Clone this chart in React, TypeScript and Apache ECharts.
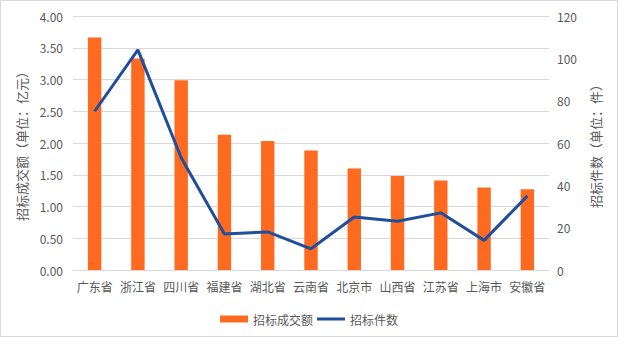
import React, { useEffect, useRef } from "react";
import * as echarts from "echarts";

const categories = ["广东省", "浙江省", "四川省", "福建省", "湖北省", "云南省", "北京市", "山西省", "江苏省", "上海市", "安徽省"];
const amountValues = [3.66, 3.33, 2.99, 2.13, 2.03, 1.88, 1.6, 1.48, 1.41, 1.3, 1.27];
const countValues = [75, 104, 53, 17, 18, 10, 25, 23, 27, 14, 35];

const FONT = "'Noto Sans CJK SC', 'Microsoft YaHei', sans-serif";
const TEXT = "#595959";

export default function App() {
  const ref = useRef<HTMLDivElement>(null);
  useEffect(() => {
    document.body.style.margin = "0";
    const chart = echarts.init(ref.current!, null, { renderer: "svg" });
    chart.setOption({
      animation: false,
      textStyle: { fontFamily: FONT, color: TEXT },
      grid: { left: 72, right: 68, top: 15, bottom: 66 },
      legend: {
        bottom: 6,
        left: "center",
        itemGap: 4,
        itemWidth: 28,
        itemHeight: 7,
        textStyle: { fontFamily: FONT, fontSize: 12, color: TEXT },
        data: [
          { name: "招标成交额", icon: "rect" },
          { name: "招标件数", icon: "path://M0,0 L28,0 L28,3 L0,3 Z" },
        ],
      },
      xAxis: {
        type: "category",
        data: categories,
        axisLine: { lineStyle: { color: "#d9d9d9" } },
        axisTick: { show: false },
        axisLabel: { color: TEXT, fontSize: 12, fontFamily: FONT, margin: 10, interval: 0 },
      },
      yAxis: [
        {
          type: "value",
          min: 0,
          max: 4,
          interval: 0.5,
          name: "招标成交额（单位：亿元）",
          nameLocation: "middle",
          nameRotate: 90,
          nameGap: 45,
          nameTextStyle: { color: TEXT, fontSize: 13, fontFamily: FONT },
          axisLabel: { color: TEXT, fontSize: 12, fontFamily: FONT, formatter: (v: number) => v.toFixed(2), margin: 10 },
          splitLine: { lineStyle: { color: "#d9d9d9" } },
          axisLine: { show: false },
          axisTick: { show: false },
        },
        {
          type: "value",
          min: 0,
          max: 120,
          interval: 20,
          name: "招标件数（单位：件）",
          nameLocation: "middle",
          nameRotate: 90,
          nameGap: 40,
          nameTextStyle: { color: TEXT, fontSize: 13, fontFamily: FONT },
          axisLabel: { color: TEXT, fontSize: 12, fontFamily: FONT, margin: 8 },
          splitLine: { show: false },
          axisLine: { show: false },
          axisTick: { show: false },
        },
      ],
      series: [
        {
          name: "招标成交额",
          type: "bar",
          data: amountValues,
          barWidth: "31%",
          itemStyle: { color: "#FF6A21" },
        },
        {
          name: "招标件数",
          type: "line",
          yAxisIndex: 1,
          data: countValues,
          symbol: "none",
          lineStyle: { color: "#1F4E9C", width: 3 },
          itemStyle: { color: "#1F4E9C" },
        },
      ],
    });
    return () => chart.dispose();
  }, []);
  return (
    <div
      style={{ position: "absolute", left: 0, top: 0, width: 618, height: 337, border: "1px solid #d9d9d9", boxSizing: "border-box", background: "#fff" }}
    >
      <div ref={ref} style={{ width: 616, height: 335 }} />
    </div>
  );
}
